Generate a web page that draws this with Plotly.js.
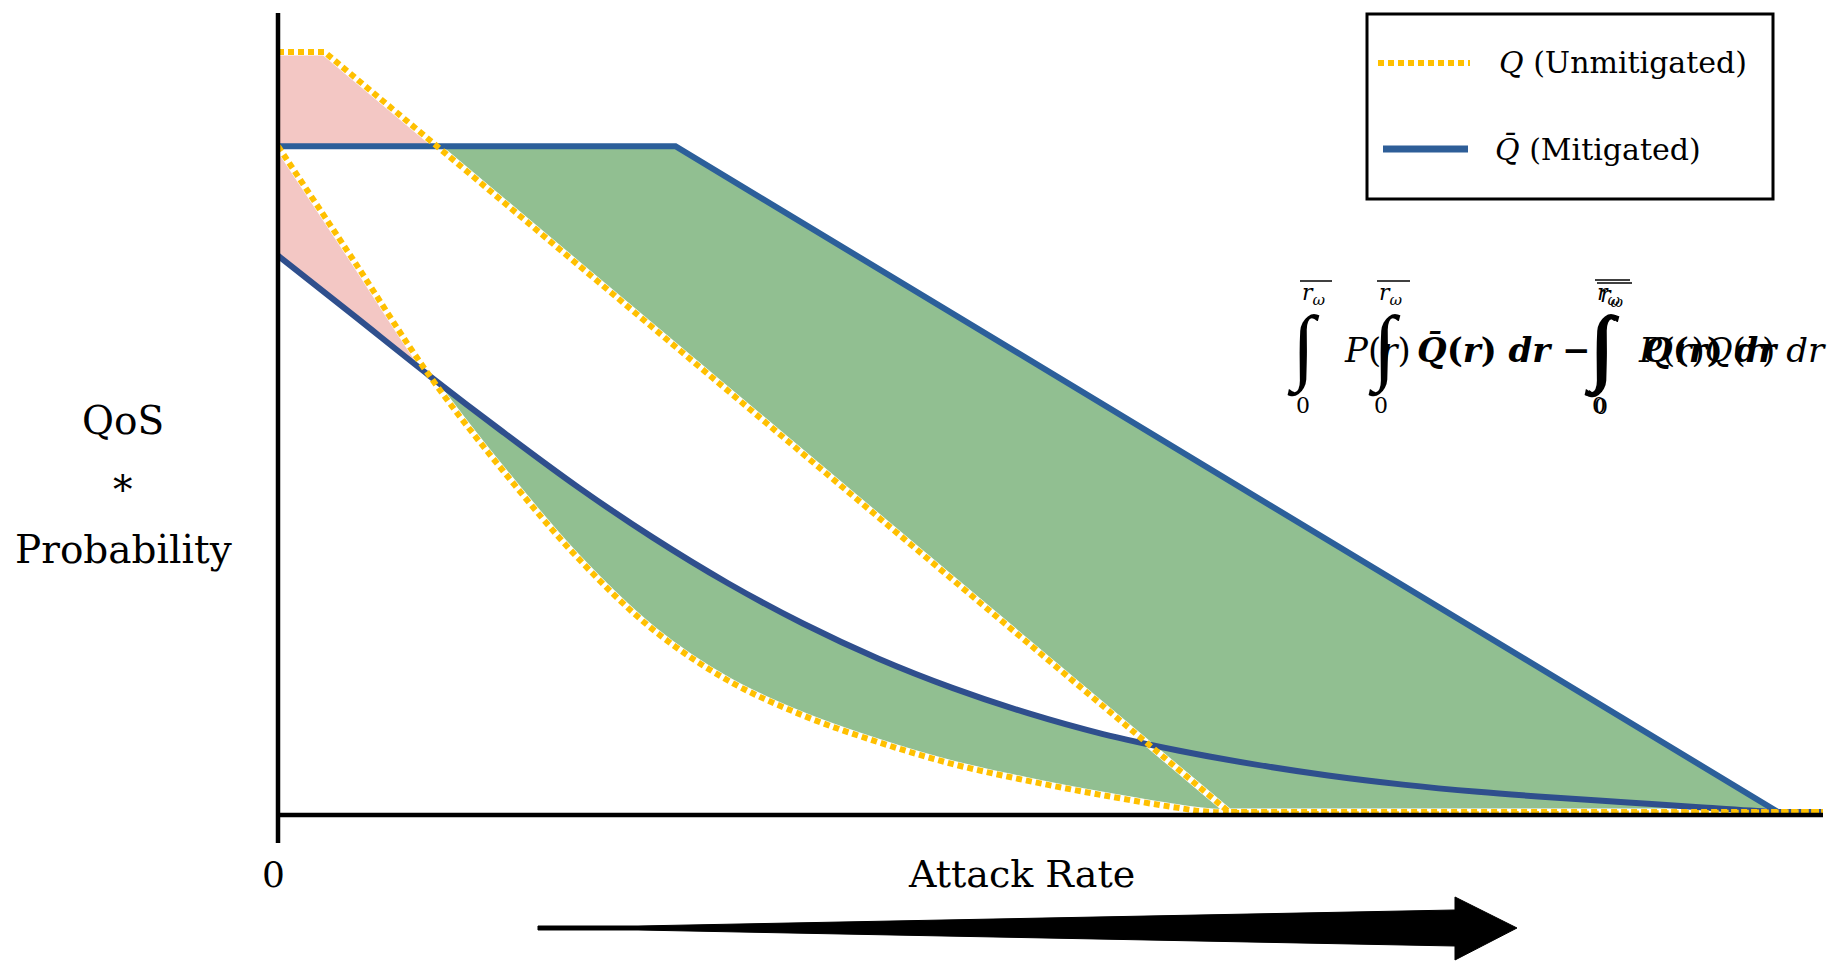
<!DOCTYPE html>
<html><head><meta charset="utf-8">
<script src="https://cdn.plot.ly/plotly-3.0.1.min.js"></script>
<style>html,body{margin:0;padding:0;background:#fff;overflow:hidden}</style>
</head><body><div id="chart" style="width:1838px;height:964px"></div>
<script>
// ---- data (x: attack rate, y: QoS * probability) ----
const upperQX    = [0, 3.1, 10.6, 63.4, 103];
const upperQY    = [100, 100, 87.6, 0, 0];
const upperQbarX = [0, 10.6, 26.5, 100, 103];
const upperQbarY = [87.6, 87.6, 87.6, 0, 0];
const lowerQX    = [0, 5, 10.1, 15, 20, 25, 30, 35, 40, 45, 50, 55, 60, 62.3, 103];
const lowerQY    = [87.6, 72.7, 57.4, 44.9, 33.4, 24.0, 17.3, 12.7, 9.2, 6.3, 4.1, 2.2, 0.55, 0, 0];
const lowerQbarX = [0, 5, 10.1, 15, 20, 25, 30, 35, 40, 45, 50, 55, 60, 65, 70, 75, 80, 85, 90, 95, 100, 103];
const lowerQbarY = [73.2, 65.4, 57.4, 50.0, 42.75, 36.1, 30.1, 24.8, 20.2, 16.3, 13.0, 10.25, 8.1, 6.3, 4.8, 3.6, 2.65, 1.9, 1.25, 0.6, 0, 0];
const upperCross = 10.6;   // where upper Q meets upper Q-bar
const lowerCross = 10.1;   // where lower Q meets lower Q-bar
const legendLabels = ['<i>Q</i> (Unmitigated)', '<i>Q̄</i> (Mitigated)'];
const xTickLabel = '0';
const xTitle = 'Attack Rate';
const yTitleLines = ['QoS', '*', 'Probability'];

// ---- style ----
const GOLD = '#FFC000', BLUE1 = '#2C5F9A', BLUE2 = '#2F4F8D';
const GREEN = 'rgb(145,191,145)', PINK = 'rgb(243,199,196)';
const SERIF = 'DejaVu Serif, Liberation Serif, serif';
const INTF = 'Liberation Serif, DejaVu Serif, serif';
const DOT = '6px,4px';

// pixel frame of the plot area
const L = 278, R = 1823, T = 14, B = 815;
const PX = p => (p - L) / (R - L);
const PY = p => (B - p) / (B - T);

function seg(xs, ys, lo, hi) {
  const x = [], y = [];
  xs.forEach((v, i) => { if (v >= lo - 1e-9 && v <= hi + 1e-9) { x.push(v); y.push(ys[i]); } });
  return {x, y};
}
function fillPair(lowerPts, upperPts, color, shape) {
  return [
    {x: lowerPts.x, y: lowerPts.y, mode: 'lines', line: {width: 0, shape}, hoverinfo: 'skip', showlegend: false},
    {x: upperPts.x, y: upperPts.y, mode: 'lines', line: {width: 0, shape}, fill: 'tonexty', fillcolor: color, hoverinfo: 'skip', showlegend: false}
  ];
}

const traces = [
  ...fillPair(seg(upperQbarX, upperQbarY, 0, upperCross), seg(upperQX, upperQY, 0, upperCross), PINK, 'linear'),
  ...fillPair(seg(upperQX, upperQY, upperCross, 103), seg(upperQbarX, upperQbarY, upperCross, 103), GREEN, 'linear'),
  ...fillPair(seg(lowerQbarX, lowerQbarY, 0, lowerCross), seg(lowerQX, lowerQY, 0, lowerCross), PINK, 'spline'),
  ...fillPair(seg(lowerQX, lowerQY, lowerCross, 103), seg(lowerQbarX, lowerQbarY, lowerCross, 103), GREEN, 'spline'),
  // white underlay under dotted lines
  {x: upperQX, y: upperQY, mode: 'lines', line: {color: '#fff', width: 7, shape: 'linear'}, hoverinfo: 'skip', showlegend: false},
  {x: lowerQX, y: lowerQY, mode: 'lines', line: {color: '#fff', width: 7, shape: 'spline'}, hoverinfo: 'skip', showlegend: false},
  // mitigated
  {x: upperQbarX, y: upperQbarY, mode: 'lines', name: 'Q̄ (Mitigated)', line: {color: BLUE1, width: 6, shape: 'linear'}, hoverinfo: 'skip', showlegend: false},
  {x: lowerQbarX, y: lowerQbarY, mode: 'lines', name: 'Q̄ (Mitigated)', line: {color: BLUE2, width: 6, shape: 'spline'}, hoverinfo: 'skip', showlegend: false},
  // unmitigated
  {x: upperQX, y: upperQY, mode: 'lines', name: 'Q (Unmitigated)', line: {color: GOLD, width: 6, dash: DOT, shape: 'linear'}, hoverinfo: 'skip', showlegend: false},
  {x: lowerQX, y: lowerQY, mode: 'lines', name: 'Q (Unmitigated)', line: {color: GOLD, width: 6, dash: DOT, shape: 'spline'}, hoverinfo: 'skip', showlegend: false}
];

function pline(x0, y0, x1, y1, color, width, dash) {
  return {type: 'line', xref: 'paper', yref: 'paper', x0: PX(x0), y0: PY(y0), x1: PX(x1), y1: PY(y1),
          line: {color, width, dash: dash || 'solid'}, layer: 'above'};
}
const arrowPts = [[538,926],[638,926],[1455,910],[1455,897],[1517,928],[1455,960],[1455,946],[638,930],[538,930]];
const arrowPath = 'M' + arrowPts.map(p => PX(p[0]).toFixed(5) + ',' + PY(p[1]).toFixed(5)).join(' L') + ' Z';

const shapes = [
  pline(278, 13, 278, 843, '#000', 4.5),      // y axis
  pline(276, 815, 1823, 815, '#000', 4.5),    // x axis
  // legend box
  {type: 'rect', xref: 'paper', yref: 'paper', x0: PX(1367), y0: PY(14), x1: PX(1773), y1: PY(199),
   line: {color: '#000', width: 3}, fillcolor: '#fff', layer: 'above'},
  pline(1378, 63, 1470, 63, GOLD, 6, '6px,4px'),
  pline(1383, 149, 1468, 149, '#2E5E98', 7),
  // arrow
  {type: 'path', xref: 'paper', yref: 'paper', path: arrowPath, fillcolor: '#000', line: {color: '#000', width: 1}, layer: 'above'},
  // overlines of the integral limits
  pline(1300, 281, 1332, 281, '#000', 1.5),
  pline(1377, 281, 1410, 281, '#000', 1.5),
  pline(1595, 280, 1630, 280, '#000', 1.5),
  pline(1597, 283, 1632, 283, '#000', 1.5)
];

function ann(x, y, text, size, xanchor, family) {
  return {xref: 'paper', yref: 'paper', x: PX(x), y: PY(y), text, showarrow: false,
    xanchor: xanchor || 'center', yanchor: 'middle', font: {family: family || SERIF, size, color: '#000'}};
}
const limit = '<i>r</i><sub><i>ω</i></sub>';
const annotations = [
  ann(123, 420, yTitleLines[0], 39), ann(123, 489, yTitleLines[1], 39), ann(123, 549, yTitleLines[2], 39),
  ann(273, 874, xTickLabel, 36), ann(1021, 874, xTitle, 38),
  ann(1497, 62, legendLabels[0], 30, 'left'), ann(1493, 150, legendLabels[1], 30, 'left'),
  // overlapping formula
  ann(1303, 348, '∫', 84, 'center', INTF), ann(1300, 294, limit, 22, 'left'), ann(1303, 405, '0', 22),
  ann(1342, 350, '<i>P</i>(<i>r</i>)', 34, 'left'),
  ann(1384, 348, '∫', 84, 'center', INTF), ann(1377, 294, limit, 22, 'left'), ann(1381, 405, '0', 22),
  ann(1415, 350, '<b><i>Q̄</i>(<i>r</i>) <i>dr</i> −</b>', 34, 'left'),
  ann(1600, 348, '∫', 84, 'center', INTF), ann(1603, 349, '∫', 84, 'center', INTF),
  ann(1595, 294, limit, 22, 'left'), ann(1598, 296, limit, 22, 'left'),
  ann(1599, 405, '0', 22), ann(1601, 406, '0', 22),
  ann(1636, 350, '<i>P</i>(<i>r</i>)<i>Q</i>(<i>r</i>) <i>dr</i>', 34, 'left'),
  ann(1641, 350, '<b><i>Q</i>(<i>r</i>) <i>dr</i></b>', 34, 'left')
];

const layout = {
  width: 1838, height: 964,
  margin: {l: L, r: 1838 - R, t: T, b: 964 - B, pad: 0},
  paper_bgcolor: '#fff', plot_bgcolor: '#fff',
  showlegend: false,
  xaxis: {range: [0, 103], showgrid: false, zeroline: false, showticklabels: false, showline: false, ticks: '', fixedrange: true},
  yaxis: {range: [-0.395, 105.0], showgrid: false, zeroline: false, showticklabels: false, showline: false, ticks: '', fixedrange: true},
  shapes, annotations
};
Plotly.newPlot('chart', traces, layout, {displayModeBar: false, staticPlot: true});
</script></body></html>
